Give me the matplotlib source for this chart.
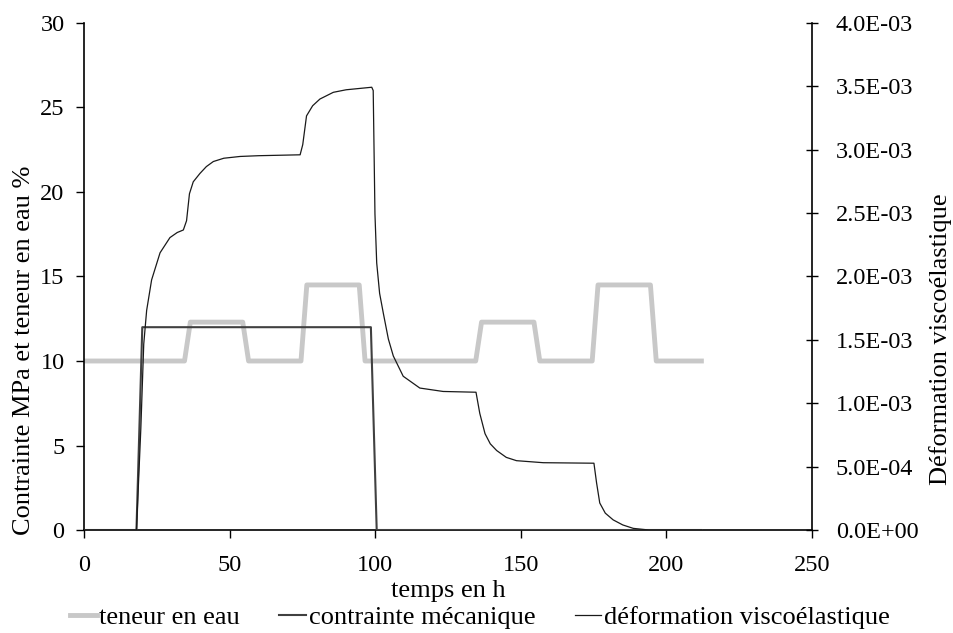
import matplotlib
matplotlib.use("Agg")
import matplotlib.pyplot as plt
import numpy as np
from matplotlib.ticker import FuncFormatter, MultipleLocator

plt.rcParams['font.family'] = ['Liberation Serif', 'DejaVu Serif']

# teneur en eau (%)
t_eau = [0, 34.5, 36.5, 54.5, 56.5, 74.5, 76.5, 94.5, 96.5, 134.5, 136.5,
         154.5, 156.5, 174.5, 176.5, 194.5, 196.5, 212]
eau = [10, 10, 12.3, 12.3, 10, 10, 14.5, 14.5, 10, 10, 12.3,
       12.3, 10, 10, 14.5, 14.5, 10, 10]

# contrainte mécanique (MPa)
t_contr = [0, 18, 20, 98.5, 100.5, 212]
contr = [0, 0, 12, 12, 0, 0]

# déformation viscoélastique (x1E-03)
t_def = [0, 18, 19.5, 20.5, 21.5, 23.2, 26.1, 29.5, 32, 34.1, 35.2, 36.2, 37.5,
         39.8, 42, 44.4, 48, 53.6, 60, 74.2, 75.1, 76.4, 78.5, 81, 85.6, 90,
         98.8, 99.3, 99.9, 100.5, 101.5, 102.8, 104.5, 106.2, 109.6, 115.3,
         123.3, 134.6, 135.9, 137.7, 139.5, 141.7, 145, 148.5, 157.7, 175.1,
         176, 177.1, 179, 181.7, 185, 188.6, 194, 212]
def_e3 = [0, 0, 0.80, 1.467, 1.733, 1.973, 2.187, 2.307, 2.347, 2.367, 2.44,
          2.653, 2.747, 2.813, 2.867, 2.907, 2.933, 2.947, 2.953, 2.96, 3.04,
          3.267, 3.347, 3.40, 3.453, 3.473, 3.493, 3.467, 2.493, 2.107, 1.867,
          1.707, 1.507, 1.373, 1.213, 1.12, 1.093, 1.087, 0.92, 0.76, 0.68,
          0.627, 0.573, 0.547, 0.531, 0.527, 0.373, 0.213, 0.133, 0.08, 0.04,
          0.013, 0, 0]
deformation = np.array(def_e3) * 1e-3

fig = plt.figure(figsize=(9.54, 6.33), dpi=100)
ax = fig.add_axes([0.0881, 0.1627, 0.7631, 0.801])
ax2 = ax.twinx()

fs_tick = 17.5
fs_lab = 19
fs_leg = 19

l1, = ax.plot(t_eau, eau, color='#c8c8c8', lw=3.5, label='teneur en eau', zorder=2)
l2, = ax.plot(t_contr, contr, color='#404040', lw=1.5, label='contrainte mécanique', zorder=3)
l3, = ax2.plot(t_def, deformation, color='#1a1a1a', lw=0.9, label='déformation viscoélastique')

ax.set_xlim(0, 250)
ax.set_ylim(0, 30)
ax2.set_ylim(0, 4e-3)
ax.xaxis.set_major_locator(MultipleLocator(50))
ax.yaxis.set_major_locator(MultipleLocator(5))
ax2.yaxis.set_major_locator(MultipleLocator(5e-4))
ax2.yaxis.set_major_formatter(FuncFormatter(lambda v, p: '{:.1E}'.format(v)))

for a in (ax, ax2):
    a.spines['top'].set_visible(False)
    for s in a.spines.values():
        s.set_linewidth(1.2)
ax.spines['right'].set_visible(False)
ax2.spines['left'].set_visible(False)
ax2.spines['bottom'].set_visible(False)

ax.tick_params(axis='x', labelsize=fs_tick, direction='out', length=6, width=1, pad=12)
ax.tick_params(axis='y', labelsize=fs_tick, direction='out', length=6, width=1, pad=8)
ax2.tick_params(axis='y', labelsize=fs_tick, direction='inout', length=8, width=1, pad=13)

ax.set_xlabel('temps en h', fontsize=fs_lab, labelpad=3)
ax.set_ylabel('Contrainte MPa et teneur en eau %', fontsize=fs_lab)
ax2.set_ylabel('Déformation viscoélastique', fontsize=fs_lab)
ax.yaxis.set_label_coords(-0.068, 0.355)
ax2.yaxis.set_label_coords(1.161, 0.377)

fig.legend(handles=[l1, l2, l3], loc='lower center', bbox_to_anchor=(0.503, 0.0),
           ncol=3, frameon=False, fontsize=fs_leg, handlelength=1.0, handletextpad=0.1,
           columnspacing=1.5, borderpad=0.05, borderaxespad=0.1)

fig.savefig('out.png', dpi=100)
